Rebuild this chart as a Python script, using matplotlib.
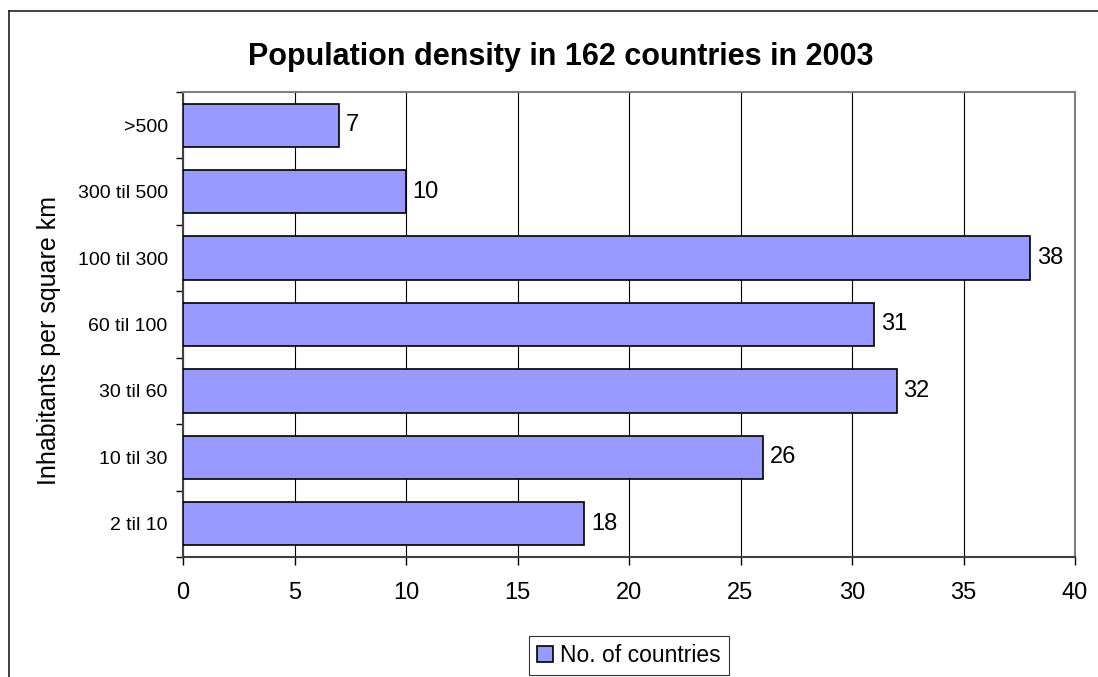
import matplotlib
matplotlib.use("Agg")
import matplotlib.pyplot as plt
from matplotlib.lines import Line2D

plt.rcParams['font.family'] = ['Liberation Sans', 'DejaVu Sans']

categories = ['2 til 10', '10 til 30', '30 til 60', '60 til 100',
              '100 til 300', '300 til 500', '>500']
counts = [18, 26, 32, 31, 38, 10, 7]
xticks = [0, 5, 10, 15, 20, 25, 30, 35, 40]

W, H = 1098, 677
fig = plt.figure(figsize=(W / 100, H / 100), dpi=100)
ax = fig.add_axes([183 / W, 1 - 557 / H, (1075 - 183) / W, (557 - 92) / H])

pos = list(range(len(categories)))
bars = ax.barh(pos, counts, height=0.65, color='#9999FF', edgecolor='black',
               linewidth=1.2, label='No. of countries', zorder=3)
for p, v in zip(pos, counts):
    ax.text(v + 0.3, p, str(v), va='center', ha='left', fontsize=17)

ax.set_xlim(0, 40)
ax.set_ylim(-0.5, len(categories) - 0.5)
ax.set_xticks(xticks)
ax.set_xticklabels([str(t) for t in xticks], fontsize=17)
ax.tick_params(axis='x', direction='out', length=6, pad=12, width=1)
ax.set_yticks(pos)
ax.set_yticklabels(categories, fontsize=14)
ax.tick_params(axis='y', length=0, pad=11)
# tick marks between categories
ax.set_yticks([p - 0.5 for p in pos] + [len(pos) - 0.5], minor=True)
ax.tick_params(axis='y', which='minor', direction='out', length=5, width=1)

ax.grid(axis='x', color='black', linewidth=0.8, zorder=0)
for side in ['top', 'right']:
    ax.spines[side].set_color('#808080')
    ax.spines[side].set_linewidth(1.5)
ax.spines['left'].set_linewidth(1.5)
ax.spines['bottom'].set_linewidth(1.5)
ax.spines['bottom'].set_color('#404040')
ax.spines['left'].set_color('#404040')

ax.set_ylabel('Inhabitants per square km', fontsize=18)
ax.yaxis.set_label_coords((61 - 183) / (1075 - 183), 0.465)

fig.text(561 / W, 1 - 57 / H, 'Population density in 162 countries in 2003',
         ha='center', va='center', fontsize=22, fontweight='bold')

leg = fig.legend(handles=[bars], labels=['No. of countries'], loc='upper center',
                 bbox_to_anchor=(629 / W, 1 - 636 / H), fontsize=16.5,
                 frameon=True, fancybox=False, handlelength=0.7, handleheight=0.7,
                 handletextpad=0.3, borderpad=0.35, borderaxespad=0)
leg.get_frame().set_edgecolor('black')
leg.get_frame().set_linewidth(0.8)

# chart border (left and top)
fig.add_artist(Line2D([9 / W, 9 / W], [0, 1 - 11 / H], color='#202020', linewidth=1.2))
fig.add_artist(Line2D([9 / W, 1], [1 - 11 / H, 1 - 11 / H], color='#202020', linewidth=1.2))

fig.savefig('out.png', dpi=100)
